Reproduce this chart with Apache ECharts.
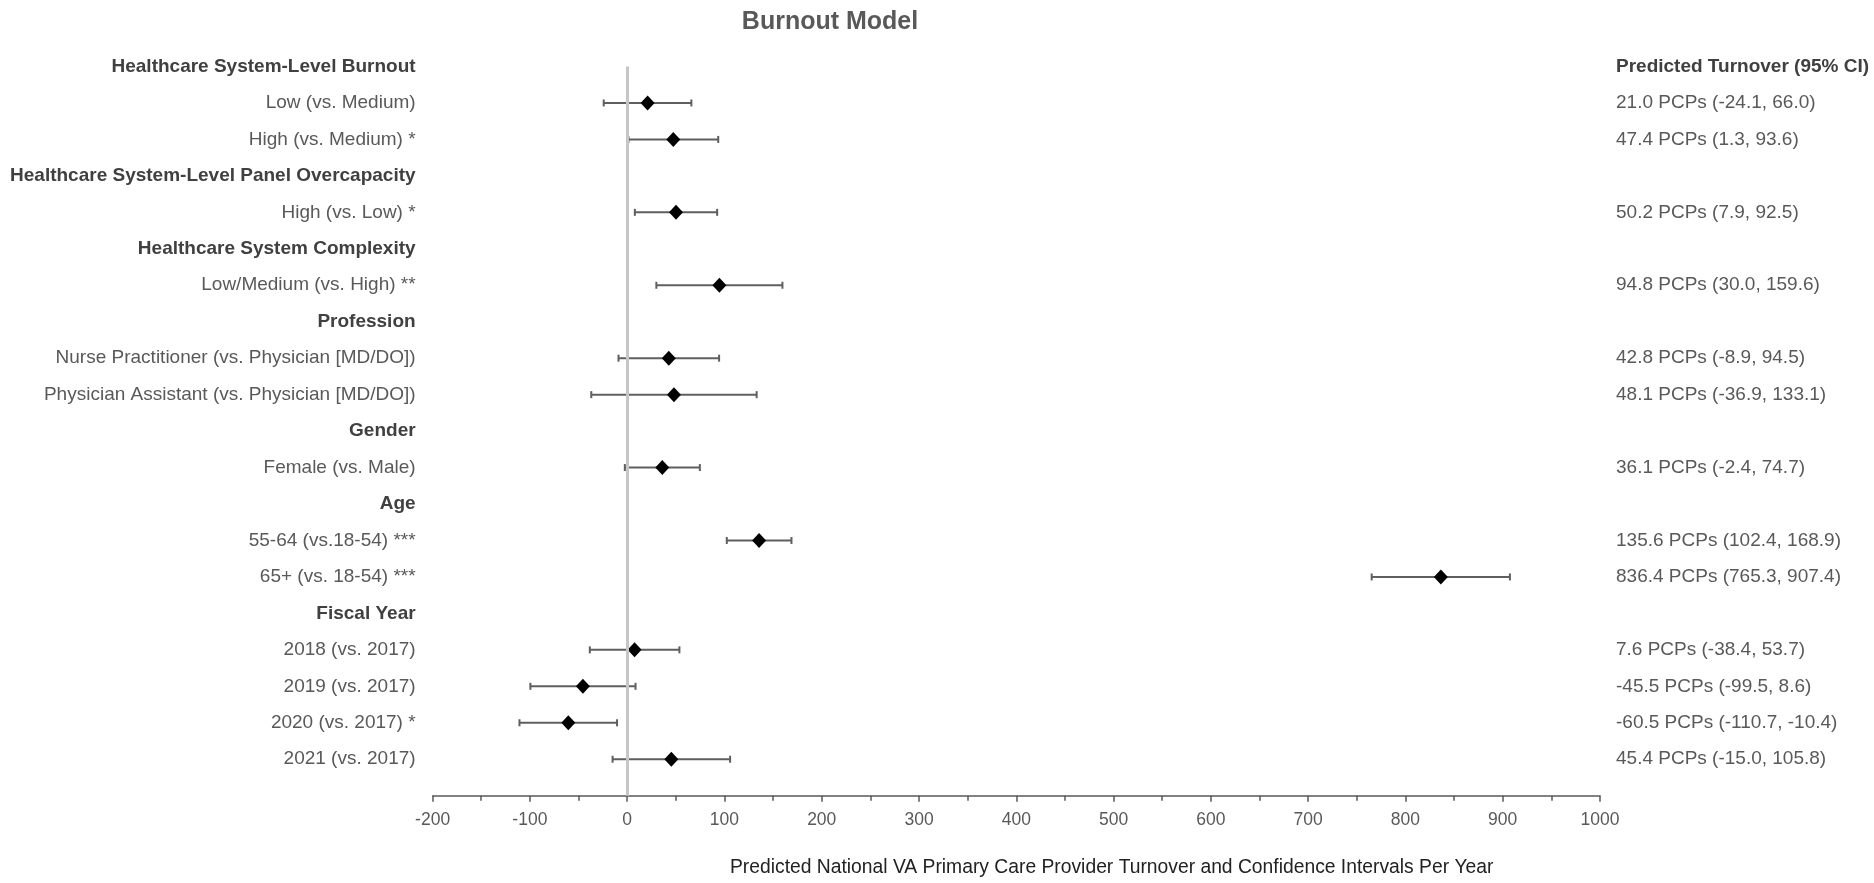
<!DOCTYPE html>
<html>
<head>
<meta charset="utf-8">
<title>Burnout Model</title>
<script src="https://cdn.jsdelivr.net/npm/echarts@6/dist/echarts.min.js"></script>
<style>
  html, body { margin: 0; padding: 0; background: #fff; }
  #chart { width: 1874px; height: 883px; }
</style>
</head>
<body>
<div id="chart"></div>
<script>
// Row labels, top to bottom; group headings have no estimate.
const rowLabels = [
  'Healthcare System-Level Burnout',
  'Low (vs. Medium)',
  'High (vs. Medium) *',
  'Healthcare System-Level Panel Overcapacity',
  'High (vs. Low) *',
  'Healthcare System Complexity',
  'Low/Medium (vs. High) **',
  'Profession',
  'Nurse Practitioner (vs. Physician [MD/DO])',
  'Physician Assistant (vs. Physician [MD/DO])',
  'Gender',
  'Female (vs. Male)',
  'Age',
  '55-64 (vs.18-54) ***',
  '65+ (vs. 18-54) ***',
  'Fiscal Year',
  '2018 (vs. 2017)',
  '2019 (vs. 2017)',
  '2020 (vs. 2017) *',
  '2021 (vs. 2017)'
];
const estimates = [null, 21.0, 47.4, null, 50.2, null, 94.8, null, 42.8, 48.1, null, 36.1, null, 135.6, 836.4, null, 7.6, -45.5, -60.5, 45.4];
const lowerCI   = [null, -24.1, 1.3, null, 7.9, null, 30.0, null, -8.9, -36.9, null, -2.4, null, 102.4, 765.3, null, -38.4, -99.5, -110.7, -15.0];
const upperCI   = [null, 66.0, 93.6, null, 92.5, null, 159.6, null, 94.5, 133.1, null, 74.7, null, 168.9, 907.4, null, 53.7, 8.6, -10.4, 105.8];
const ciHeading = 'Predicted Turnover (95% CI)';
const xTicks = { min: -200, max: 1000, step: 100 };
const titleText = 'Burnout Model';
const xAxisTitle = 'Predicted National VA Primary Care Provider Turnover and Confidence Intervals Per Year';

const FONT = '"Liberation Sans", Arial, Helvetica, sans-serif';
const GREY = '#595959';
const LABEL_SIZE = 19;

const isHeading = estimates.map(v => v === null);
const ciText = estimates.map((v, i) =>
  v === null ? '' : v.toFixed(1) + ' PCPs (' + lowerCI[i].toFixed(1) + ', ' + upperCI[i].toFixed(1) + ')'
);
ciText[0] = ciHeading;

// Rows are placed at y = 1..20 on a hidden value axis; 21 marks the bottom edge.
const pointData = [];
const barData = [];
estimates.forEach((v, i) => {
  if (v === null) return;
  pointData.push([v, i + 1]);
  barData.push([lowerCI[i], upperCI[i], i + 1]);
});

const chart = echarts.init(document.getElementById('chart'), null, { renderer: 'canvas' });

const yBase = {
  type: 'value',
  inverse: true,
  min: 1,
  max: 21,
  interval: 1,
  axisLine: { show: false },
  axisTick: { show: false },
  splitLine: { show: false }
};

const headingStyle = { fontFamily: FONT, fontSize: LABEL_SIZE, fontWeight: 'bold', color: '#404040' };

chart.setOption({
  animation: false,
  textStyle: { fontFamily: FONT },
  title: [
    {
      text: titleText,
      left: 825,
      top: 5,
      textAlign: 'center',
      textStyle: { fontFamily: FONT, fontSize: 25, fontWeight: 'bold', color: GREY }
    },
    {
      text: xAxisTitle,
      left: 725,
      top: 853,
      textStyle: { fontFamily: FONT, fontSize: 19.3, fontWeight: 'normal', color: '#222222' }
    }
  ],
  grid: { left: 432.6, right: 274, top: 66.5, bottom: 87.3, containLabel: false },
  xAxis: {
    type: 'value',
    min: xTicks.min,
    max: xTicks.max,
    interval: xTicks.step,
    axisLine: { show: true, onZero: false, lineStyle: { color: GREY, width: 1.5 } },
    axisTick: { show: true, length: 6, lineStyle: { color: GREY, width: 1.5 } },
    minorTick: { show: true, splitNumber: 2, length: 5, lineStyle: { color: GREY, width: 1.5 } },
    splitLine: { show: false },
    axisLabel: {
      color: GREY,
      fontSize: 17.5,
      fontFamily: FONT,
      margin: 15,
      formatter: v => String(v)
    }
  },
  yAxis: [
    Object.assign({}, yBase, {
      position: 'left',
      axisLabel: {
        margin: 17,
        fontFamily: FONT,
        fontSize: LABEL_SIZE,
        color: GREY,
        formatter: v => {
          const i = v - 1;
          if (i < 0 || i >= rowLabels.length) return '';
          return isHeading[i] ? '{h|' + rowLabels[i] + '}' : rowLabels[i];
        },
        rich: { h: headingStyle }
      }
    }),
    Object.assign({}, yBase, {
      position: 'right',
      axisLabel: {
        margin: 16,
        fontFamily: FONT,
        fontSize: LABEL_SIZE,
        color: GREY,
        formatter: v => {
          const i = v - 1;
          if (i < 0 || i >= ciText.length) return '';
          return i === 0 ? '{h|' + ciText[i] + '}' : ciText[i];
        },
        rich: { h: headingStyle }
      }
    })
  ],
  series: [
    {
      // confidence interval whiskers with end caps
      type: 'custom',
      yAxisIndex: 0,
      z: 2,
      silent: true,
      data: barData,
      encode: { x: [0, 1], y: 2 },
      renderItem: (params, api) => {
        const y = api.value(2);
        const a = api.coord([api.value(0), y]);
        const b = api.coord([api.value(1), y]);
        const cap = 3.5;
        const style = { stroke: '#5f5f5f', lineWidth: 2 };
        return {
          type: 'group',
          children: [
            { type: 'line', shape: { x1: a[0], y1: a[1], x2: b[0], y2: b[1] }, style },
            { type: 'line', shape: { x1: a[0], y1: a[1] - cap, x2: a[0], y2: a[1] + cap }, style },
            { type: 'line', shape: { x1: b[0], y1: b[1] - cap, x2: b[0], y2: b[1] + cap }, style }
          ]
        };
      },
      markLine: {
        silent: true,
        symbol: 'none',
        label: { show: false },
        lineStyle: { color: '#c6c6c6', width: 3, type: 'solid', opacity: 1 },
        data: [{ xAxis: 0 }]
      }
    },
    {
      // point estimates
      type: 'scatter',
      yAxisIndex: 0,
      z: 3,
      silent: true,
      symbol: 'diamond',
      symbolSize: [14, 15],
      itemStyle: { color: '#000000', opacity: 1 },
      data: pointData
    }
  ]
});
</script>
</body>
</html>
